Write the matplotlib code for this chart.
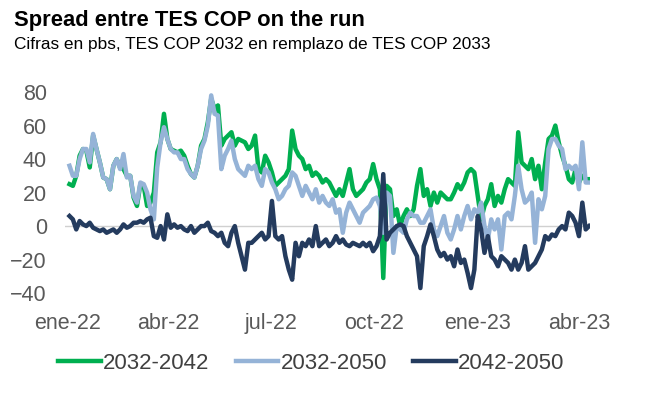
import pandas as pd
import matplotlib
matplotlib.use('Agg')
import matplotlib.pyplot as plt

plt.rcParams['font.family'] = ['Liberation Sans', 'DejaVu Sans']

# series sampled every 3 days, from 3-ene-22 to 10-abr-23
dates = pd.date_range('2022-01-03', periods=155, freq='3D')

s_2032_2042 = [
    25, 24, 30, 42, 46, 45, 35, 54, 46, 38,
    29, 28, 22, 36, 40, 35, 34, 30, 30, 17,
    12, 25, 24, 12, 14, 20, 44, 50, 67, 52,
    46, 45, 44, 45, 42, 36, 31, 29, 36, 48,
    52, 62, 76, 70, 72,
    48, 52, 54, 56, 48,
    52, 51, 50, 46, 48, 54, 34, 32, 42, 38,
    32, 24, 26, 28, 30, 34, 57, 46, 42, 40,
    34, 36, 30, 32, 30, 26, 28, 26, 22, 18,
    22, 18, 26, 34, 22, 18, 20, 22, 26, 28,
    37, 28, 22, -31, 24, 22, 6, 10, 0, 6,
    10, 6, 10, 24,
    34, 18, 22, 12, 20, 14,
    20, 18, 16, 16, 20, 25, 22, 26, 32, 34,
    32, 18, 4, 12, 16, 25, 12, 18, 14, 22,
    28, 26, 24, 56, 38, 36, 34, 40, 28, 36,
    22, 38, 52, 54, 60, 50, 42, 36, 28, 26,
    34, 26, 30, 28, 28,
]

s_2032_2050 = [
    36, 30, 30, 40, 46, 46, 38, 55, 46, 38,
    29, 28, 22, 36, 40, 34, 43, 29, 30, 18,
    14, 26, 25, 20, 10, 4, 35, 50, 59, 52,
    46, 44, 44, 40, 40, 34, 31, 29, 36, 46,
    51, 60, 78, 67, 66,
    34, 42, 46, 51, 40,
    34, 32, 30, 36, 34, 36, 28, 24, 34, 32,
    26, 22, 16, 18, 22, 24, 32, 30, 24, 18,
    24, 20, 16, 22, 14, 18, 14, 12, 16, 8,
    10, -4, 8, 14, 10, 6, 2, 8, 10, 12,
    16, 17, 12, -4, 20, 18, -16, 0, -2, -4,
    4, 8, 6, 6,
    2, 2, 6, 10, -2, -6,
    0, 6, -4, -8, -2, 6, -2, 6, 12, 4,
    10, 8, 14, 0, -8, 4, -2, 4, -14, 6,
    8, 4, 18, 36, 22, 14, 16, 20, -10, 16,
    10, 18, 46, 52, 52, 48, 46, 34, 36, 34,
    36, 22, 50, 26, 26,
]

s_2042_2050 = [
    6, 4, -2, 3, 1, 0, 2, -1, -2, -3,
    -2, -4, -3, -2, -4, -2, 1, -1, 0, 2,
    2, 3, 2, 4, 5, -6, -7, 0, -8, 7,
    -1, 1, -1, 0, -2, -3, 0, -4, -2, 0,
    0, 2, -3, -4, -6,
    -4, -10, -12, -4, 0,
    -10, -18, -26, -10, -10, -8, -6, -4, -8, -6,
    15, -6, -8, -6, -18, -26, -32, -10, -18, -10,
    -12, -8, -12, 0, -12, -10, -8, -12, -10, -6,
    -10, -8, -11, -12, -10, -11, -12, -10, -12, -10,
    -15, -12, -6, 31, -8, -4, -2, 0, 1, 0,
    -6, -10, -14, -18,
    -37, -12, -6, 1, -6, -14,
    -18, -16, -20, -18, -24, -14, -22, -20, -28, -37,
    -26, 6, -2, -16, -6, -18, -20, -24, -18, -20,
    -22, -26, -20, -26, -22, -12, -26, -24, -22, -18,
    -14, -6, -8, -5, -6, -2, 0, -2, 8, 6,
    2, -6, 14, -2, 0,
]

tick_dates = pd.to_datetime(['2022-01-01', '2022-04-01', '2022-07-01',
                             '2022-10-01', '2023-01-01', '2023-04-01'])
tick_labels = ['ene-22', 'abr-22', 'jul-22', 'oct-22', 'ene-23', 'abr-23']
y_ticks = [-40, -20, 0, 20, 40, 60, 80]

fig = plt.figure(figsize=(6.5, 3.95), dpi=100)
ax = fig.add_axes([0.1, 0.258, 0.808, 0.509])

ax.axhline(0, color='#d0d0d0', lw=1, zorder=1)
ax.plot(dates, s_2032_2042, color='#00AF50', lw=3.2, label='2032-2042', zorder=2)
ax.plot(dates, s_2032_2050, color='#95B3D7', lw=3.2, label='2032-2050', zorder=3)
ax.plot(dates, s_2042_2050, color='#243B5E', lw=3.2, label='2042-2050', zorder=4)

ax.set_ylim(-40, 80)
ax.set_yticks(y_ticks)
ax.set_xlim(pd.Timestamp('2021-12-30'), pd.Timestamp('2023-04-11'))
ax.set_xticks(tick_dates)
ax.set_xticklabels(tick_labels)
ax.tick_params(axis='both', length=0, labelsize=15.5, colors='#595959')
ax.tick_params(axis='y', pad=13)
ax.tick_params(axis='x', pad=14)
for sp in ax.spines.values():
    sp.set_visible(False)

fig.text(0.022, 0.935, 'Spread entre TES COP on the run', fontsize=15.8,
         fontweight='bold', color='black', va='baseline')
fig.text(0.022, 0.875, 'Cifras en pbs, TES COP 2032 en remplazo de TES COP 2033',
         fontsize=12.4, color='black', va='baseline')

fig.legend(loc='center', bbox_to_anchor=(0.479, 0.081), ncol=3, frameon=False,
           fontsize=16, handlelength=1.9, handletextpad=0.1, columnspacing=1.2,
           labelcolor='#404040')

plt.savefig('out.png', dpi=100)
